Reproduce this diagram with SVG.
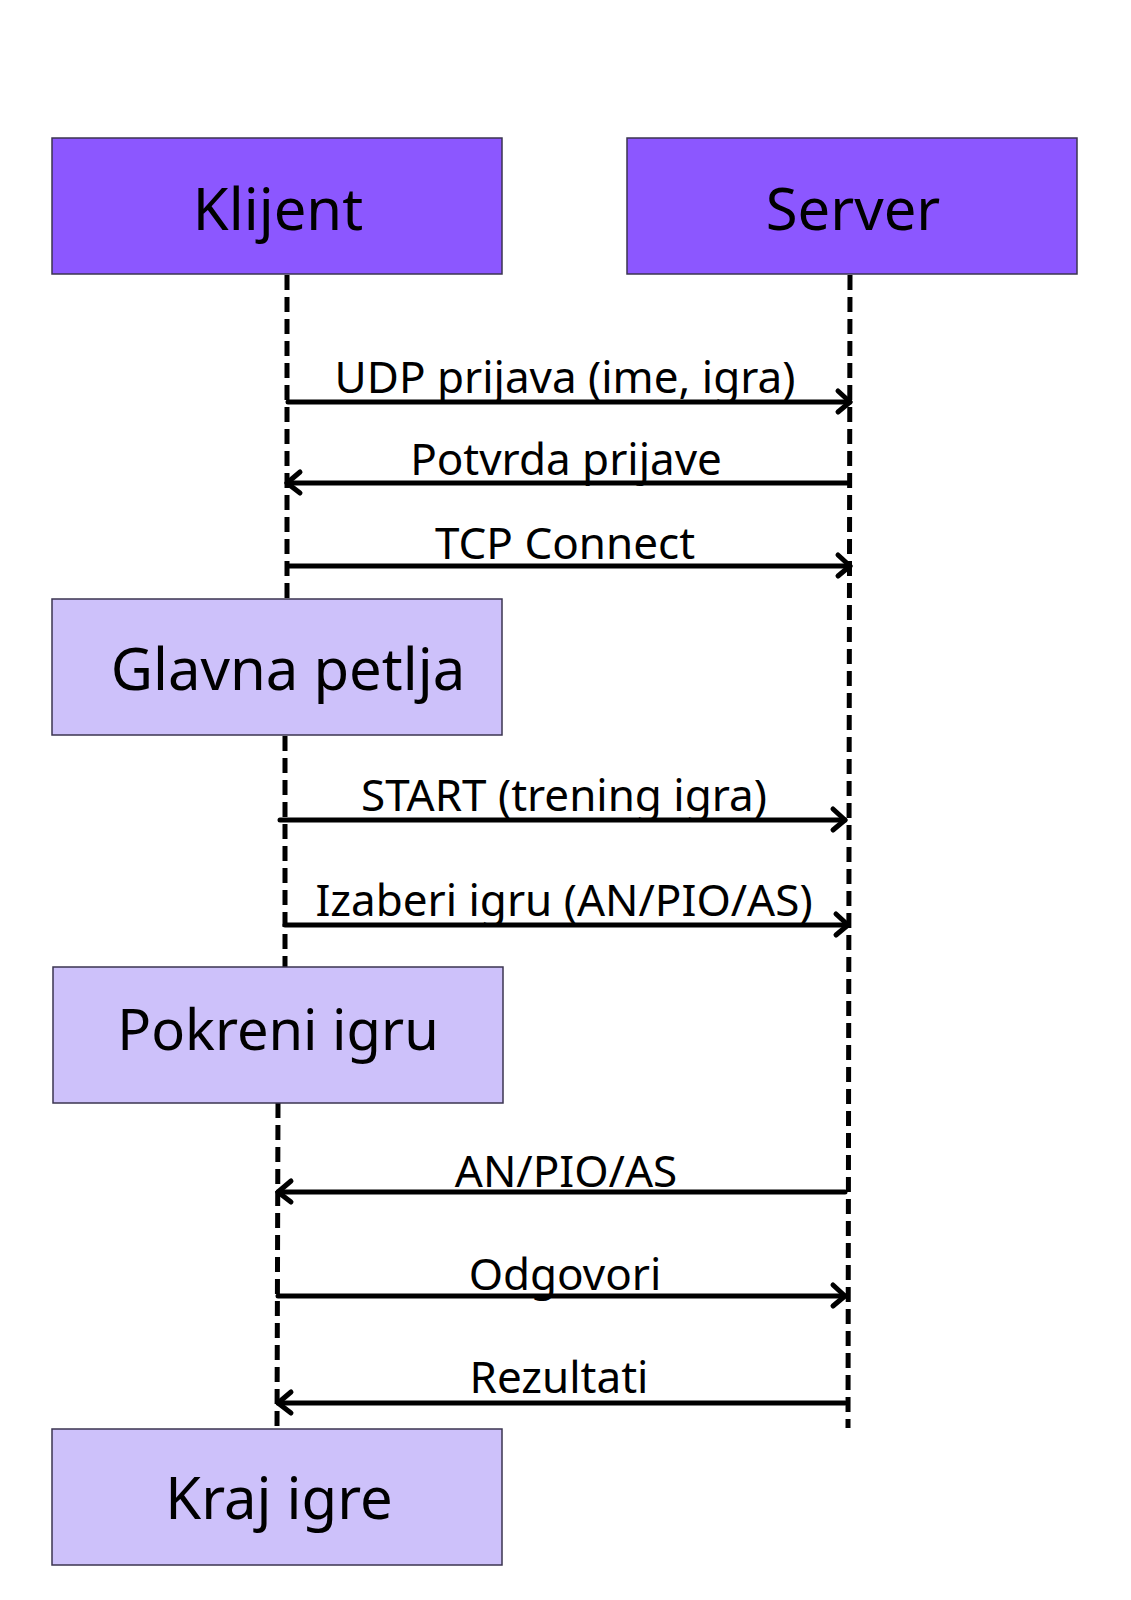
<svg xmlns="http://www.w3.org/2000/svg" width="1131" height="1600" viewBox="0 0 1131 1600">
<defs>
<style>
.hdr{fill:#8c57ff;stroke:#3b3550;stroke-width:1.5}
.blk{fill:#cdc1fa;stroke:#3b3550;stroke-width:1.5}
.big{font-family:"Noto Sans","Open Sans",sans-serif;font-size:58px;fill:#000;text-anchor:middle}
.lbl{font-family:"Noto Sans","Open Sans",sans-serif;font-size:44px;fill:#000;text-anchor:middle}
.life{stroke:#000;stroke-width:5;stroke-dasharray:15 7;fill:none}
.msg{stroke:#000;stroke-width:5;fill:none;stroke-linecap:round}
.head{stroke:#000;stroke-width:5;fill:none;stroke-linecap:round;stroke-linejoin:round}
</style>
</defs>
<rect width="1131" height="1600" fill="#fff"/>
<g id="lifelines">
<line class="life" x1="287" y1="275" x2="287" y2="599"/>
<line class="life" x1="285" y1="736" x2="285" y2="967"/>
<line class="life" x1="278" y1="1103" x2="277" y2="1429"/>
<line class="life" x1="850" y1="275" x2="848" y2="1428"/>
</g>
<g id="connectors">
<line class="msg" x1="288" y1="402" x2="850" y2="402"/><path class="head" d="M838 391 L850 402 L838 412"/>
<line class="msg" x1="847" y1="483" x2="287" y2="483"/><path class="head" d="M300 472 L287 483 L300 493"/>
<line class="msg" x1="288" y1="566" x2="850" y2="566"/><path class="head" d="M838 555 L850 566 L838 576"/>
<line class="msg" x1="280" y1="820" x2="845" y2="820"/><path class="head" d="M833 809 L845 820 L833 830"/>
<line class="msg" x1="285" y1="925" x2="848" y2="925"/><path class="head" d="M836 914 L848 925 L836 935"/>
<line class="msg" x1="845" y1="1192" x2="278" y2="1192"/><path class="head" d="M291 1181 L278 1192 L291 1202"/>
<line class="msg" x1="278" y1="1296" x2="845" y2="1296"/><path class="head" d="M833 1285 L845 1296 L833 1306"/>
<line class="msg" x1="845" y1="1403" x2="278" y2="1403"/><path class="head" d="M291 1392 L278 1403 L291 1413"/>
</g>
<g id="labels">
<text class="lbl" x="565" y="393">UDP prijava (ime, igra)</text>
<text class="lbl" x="566" y="475">Potvrda prijave</text>
<text class="lbl" x="565" y="559">TCP Connect</text>
<text class="lbl" x="564" y="811">START (trening igra)</text>
<text class="lbl" x="564" y="916">Izaberi igru (AN/PIO/AS)</text>
<text class="lbl" x="566" y="1187">AN/PIO/AS</text>
<text class="lbl" x="565" y="1290">Odgovori</text>
<text class="lbl" x="559" y="1393">Rezultati</text>
</g>
<g id="node-klijent">
<rect class="hdr" x="52" y="138" width="450" height="136"/>
<text class="big" x="278" y="230">Klijent</text>
</g>
<g id="node-server">
<rect class="hdr" x="627" y="138" width="450" height="136"/>
<text class="big" x="853" y="230">Server</text>
</g>
<g id="node-glavna-petlja">
<rect class="blk" x="52" y="599" width="450" height="136"/>
<text class="big" x="288" y="690">Glavna petlja</text>
</g>
<g id="node-pokreni-igru">
<rect class="blk" x="53" y="967" width="450" height="136"/>
<text class="big" x="278" y="1050" style="font-size:56px">Pokreni igru</text>
</g>
<g id="node-kraj-igre">
<rect class="blk" x="52" y="1429" width="450" height="136"/>
<text class="big" x="279" y="1519">Kraj igre</text>
</g>
</svg>
